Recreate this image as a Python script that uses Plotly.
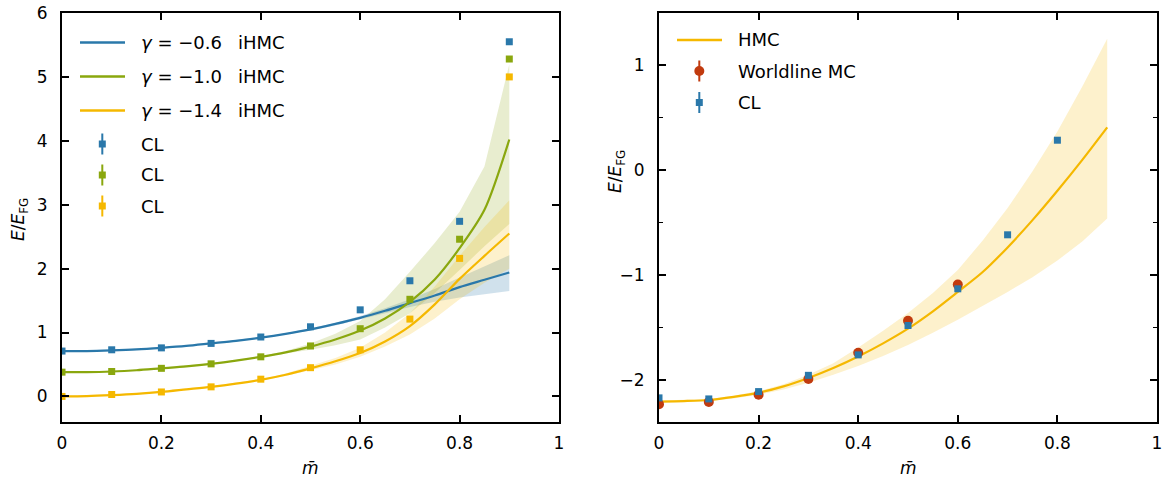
import plotly.graph_objects as go

# ---------------- data (left panel) ----------------
m_cl = [0.0, 0.1, 0.2, 0.3, 0.4, 0.5, 0.6, 0.7, 0.8, 0.9]
cl_g06 = [0.71, 0.73, 0.76, 0.83, 0.93, 1.09, 1.355, 1.81, 2.74, 5.55]
cl_g10 = [0.38, 0.39, 0.44, 0.51, 0.62, 0.79, 1.06, 1.52, 2.46, 5.28]
cl_g14 = [0.0, 0.03, 0.07, 0.15, 0.27, 0.45, 0.73, 1.21, 2.16, 5.0]

m_line = [0.0, 0.05, 0.1, 0.15, 0.2, 0.25, 0.3, 0.35, 0.4, 0.45,
          0.5, 0.55, 0.6, 0.65, 0.7, 0.75, 0.8, 0.85, 0.9]
ihmc_g06 = [0.71, 0.71, 0.72, 0.735, 0.76, 0.79, 0.83, 0.87, 0.92, 0.98,
            1.05, 1.135, 1.23, 1.34, 1.46, 1.58, 1.71, 1.825, 1.94]
ihmc_g06_lo = [0.70, 0.70, 0.71, 0.725, 0.75, 0.78, 0.82, 0.86, 0.91, 0.97,
               1.03, 1.11, 1.20, 1.30, 1.40, 1.48, 1.55, 1.60, 1.65]
ihmc_g06_hi = [0.72, 0.72, 0.73, 0.745, 0.77, 0.80, 0.84, 0.88, 0.93, 0.99,
               1.07, 1.15, 1.26, 1.38, 1.52, 1.68, 1.86, 2.03, 2.21]

ihmc_g10 = [0.38, 0.38, 0.39, 0.41, 0.44, 0.47, 0.51, 0.56, 0.62, 0.69,
            0.78, 0.89, 1.03, 1.22, 1.48, 1.83, 2.32, 2.92, 4.02]
ihmc_g10_lo = [0.37, 0.37, 0.38, 0.40, 0.43, 0.46, 0.50, 0.55, 0.61, 0.67,
               0.73, 0.80, 0.89, 1.08, 1.30, 1.62, 1.98, 2.35, 2.70]
ihmc_g10_hi = [0.39, 0.39, 0.40, 0.42, 0.45, 0.48, 0.52, 0.57, 0.63, 0.71,
               0.83, 0.98, 1.18, 1.52, 1.95, 2.40, 2.89, 3.60, 5.20]

ihmc_g14 = [0.0, 0.005, 0.02, 0.04, 0.07, 0.11, 0.15, 0.20, 0.26, 0.34,
            0.44, 0.55, 0.68, 0.86, 1.10, 1.44, 1.84, 2.20, 2.55]
ihmc_g14_lo = [-0.01, -0.005, 0.01, 0.03, 0.06, 0.10, 0.14, 0.19, 0.25, 0.32,
               0.41, 0.50, 0.62, 0.78, 0.97, 1.22, 1.52, 1.78, 2.00]
ihmc_g14_hi = [0.01, 0.015, 0.03, 0.05, 0.08, 0.12, 0.16, 0.21, 0.27, 0.36,
               0.48, 0.60, 0.76, 1.00, 1.30, 1.72, 2.20, 2.65, 3.07]

# ---------------- data (right panel) ----------------
m_wl = [0.0, 0.1, 0.2, 0.3, 0.4, 0.5, 0.6]
worldline = [-2.23, -2.21, -2.14, -1.99, -1.74, -1.435, -1.09]
m_cl2 = [0.0, 0.1, 0.2, 0.3, 0.4, 0.5, 0.6, 0.7, 0.8]
cl_right = [-2.17, -2.18, -2.11, -1.955, -1.76, -1.48, -1.13, -0.615, 0.287]
hmc = [-2.205, -2.20, -2.19, -2.16, -2.12, -2.06, -1.98, -1.885, -1.775, -1.65,
       -1.51, -1.345, -1.16, -0.97, -0.735, -0.475, -0.195, 0.10, 0.41]
hmc_lo = [-2.215, -2.21, -2.20, -2.175, -2.14, -2.09, -2.025, -1.95, -1.865, -1.77,
          -1.665, -1.55, -1.425, -1.295, -1.16, -1.02, -0.86, -0.68, -0.46]
hmc_hi = [-2.195, -2.19, -2.18, -2.15, -2.105, -2.04, -1.95, -1.84, -1.69, -1.53,
          -1.36, -1.17, -0.95, -0.67, -0.36, -0.01, 0.37, 0.80, 1.255]

x_ticks = [0, 0.2, 0.4, 0.6, 0.8, 1]
x_ticklabels = ["0", "0.2", "0.4", "0.6", "0.8", "1"]

# ---------------- styles ----------------
BLUE = "#2a78aa"
GREEN = "#8aa70e"
YELLOW = "#f5b800"
RED = "#c13a0e"
FONT = "DejaVu Sans"
W, H = 1163, 484


def fa(hexc, a):
    hexc = hexc.lstrip("#")
    r, g, b = int(hexc[0:2], 16), int(hexc[2:4], 16), int(hexc[4:6], 16)
    return f"rgba({r},{g},{b},{a})"


fig = go.Figure()


def band(x, lo, hi, color, xa, ya, a=0.2):
    fig.add_trace(go.Scatter(x=list(x) + list(x)[::-1], y=list(hi) + list(lo)[::-1],
                             fill="toself", fillcolor=fa(color, a),
                             line=dict(width=0),
                             mode="lines", hoverinfo="skip", showlegend=False,
                             xaxis=xa, yaxis=ya))


def line(x, y, color, xa, ya, shape="spline"):
    fig.add_trace(go.Scatter(x=x, y=y, mode="lines",
                             line=dict(color=color, width=2.2, shape=shape, smoothing=0.8),
                             showlegend=False, xaxis=xa, yaxis=ya))


def pts(x, y, color, symbol, size, xa, ya):
    fig.add_trace(go.Scatter(x=x, y=y, mode="markers",
                             marker=dict(color=color, symbol=symbol, size=size,
                                         line=dict(width=0)),
                             showlegend=False, xaxis=xa, yaxis=ya))


# left panel
band(m_line, ihmc_g06_lo, ihmc_g06_hi, BLUE, "x", "y", 0.22)
band(m_line, ihmc_g10_lo, ihmc_g10_hi, GREEN, "x", "y")
band(m_line, ihmc_g14_lo, ihmc_g14_hi, YELLOW, "x", "y")
line(m_line, ihmc_g06, BLUE, "x", "y")
line(m_line, ihmc_g10, GREEN, "x", "y")
line(m_line, ihmc_g14, YELLOW, "x", "y")
pts(m_cl, cl_g06, BLUE, "square", 7, "x", "y")
pts(m_cl, cl_g10, GREEN, "square", 7, "x", "y")
pts(m_cl, cl_g14, YELLOW, "square", 7, "x", "y")

# right panel
band(m_line, hmc_lo, hmc_hi, YELLOW, "x2", "y2")
line(m_line, hmc, YELLOW, "x2", "y2")
pts(m_wl, worldline, RED, "circle", 10, "x2", "y2")
pts(m_cl2, cl_right, BLUE, "square", 7, "x2", "y2")


def px(x):
    return x / W


def py(y):
    return 1 - y / H


axis_common = dict(showline=True, linecolor="black", linewidth=2, mirror="allticks",
                   ticks="inside", ticklen=7, tickwidth=1.6, tickcolor="black",
                   showgrid=False, zeroline=False, automargin=False,
                   tickfont=dict(family=FONT, size=17, color="black"))

ydom = [(H - 422) / H, (H - 13) / H]

fig.update_layout(
    width=W, height=H, margin=dict(l=0, r=0, t=0, b=0, pad=0), autosize=False,
    paper_bgcolor="white", plot_bgcolor="white", showlegend=False,
    xaxis=dict(domain=[62 / W, 559 / W], range=[0, 1], tickvals=x_ticks,
               ticktext=x_ticklabels, anchor="y", ticklabelstandoff=5, **axis_common),
    yaxis=dict(domain=ydom, range=[-0.4, 6], dtick=1, tick0=0, anchor="x",
               ticklabelstandoff=9, **axis_common),
    xaxis2=dict(domain=[659 / W, 1157 / W], range=[0, 1], tickvals=x_ticks,
                ticktext=x_ticklabels, anchor="y2", ticklabelstandoff=5, **axis_common),
    yaxis2=dict(domain=ydom, range=[-2.4, 1.5], dtick=1, tick0=0, anchor="x2",
                ticklabelstandoff=9,
                minor=dict(dtick=0.5, tick0=0, ticks="inside", ticklen=4,
                           tickwidth=1.4, tickcolor="black"),
                **axis_common),
)

shapes = []
annotations = []


def leg_line(x0, x1, y, color):
    shapes.append(dict(type="line", xref="paper", yref="paper", x0=px(x0), x1=px(x1),
                       y0=py(y), y1=py(y), line=dict(color=color, width=2.4)))


def leg_err(x, y, color, symbol):
    shapes.append(dict(type="line", xref="paper", yref="paper", x0=px(x), x1=px(x),
                       y0=py(y - 10.5), y1=py(y + 10.5), line=dict(color=color, width=2)))
    if symbol == "square":
        shapes.append(dict(type="rect", xref="paper", yref="paper",
                           x0=px(x - 3.5), x1=px(x + 3.5), y0=py(y + 3.5), y1=py(y - 3.5),
                           fillcolor=color, line=dict(width=0)))
    else:
        shapes.append(dict(type="circle", xref="paper", yref="paper",
                           x0=px(x - 5), x1=px(x + 5), y0=py(y + 5), y1=py(y - 5),
                           fillcolor=color, line=dict(width=0)))


def leg_text(x, y, text):
    annotations.append(dict(x=px(x), y=py(y), xref="paper", yref="paper", text=text,
                            showarrow=False, xanchor="left", yanchor="middle",
                            font=dict(family=FONT, size=18, color="black")))


# left legend
gam = ["−0.6", "−1.0", "−1.4"]
for yy, col, g in zip([42.5, 76.5, 110.5], [BLUE, GREEN, YELLOW], gam):
    leg_line(80, 125, yy, col)
    leg_text(139, yy, f"<i>γ</i> = {g}")
    leg_text(236, yy, "iHMC")
for yy, col in zip([144, 175, 206], [BLUE, GREEN, YELLOW]):
    leg_err(102.3, yy, col, "square")
    leg_text(139, yy, "CL")

# right legend
leg_line(677, 722, 40, YELLOW)
leg_text(736, 40, "HMC")
leg_err(699.3, 71, RED, "circle")
leg_text(736, 71, "Worldline MC")
leg_err(699.3, 102.5, BLUE, "square")
leg_text(736, 102.5, "CL")

# axis titles
ylab = "<i>E</i>/<i>E</i><sub>FG</sub>"
annotations.append(dict(x=px(19), y=py(220), xref="paper", yref="paper", text=ylab,
                        textangle=-90, showarrow=False, xanchor="center", yanchor="middle",
                        font=dict(family=FONT, size=17, color="black")))
annotations.append(dict(x=px(617), y=py(172), xref="paper", yref="paper", text=ylab,
                        textangle=-90, showarrow=False, xanchor="center", yanchor="middle",
                        font=dict(family=FONT, size=17, color="black")))
xlab = "<i>m̄</i>"
annotations.append(dict(x=px(310), y=py(468), xref="paper", yref="paper", text=xlab,
                        showarrow=False, xanchor="center", yanchor="middle",
                        font=dict(family=FONT, size=17, color="black")))
annotations.append(dict(x=px(908), y=py(468), xref="paper", yref="paper", text=xlab,
                        showarrow=False, xanchor="center", yanchor="middle",
                        font=dict(family=FONT, size=17, color="black")))

fig.update_layout(shapes=shapes, annotations=annotations)
fig.write_html("out.html", post_script="document.body.style.margin='0';")
